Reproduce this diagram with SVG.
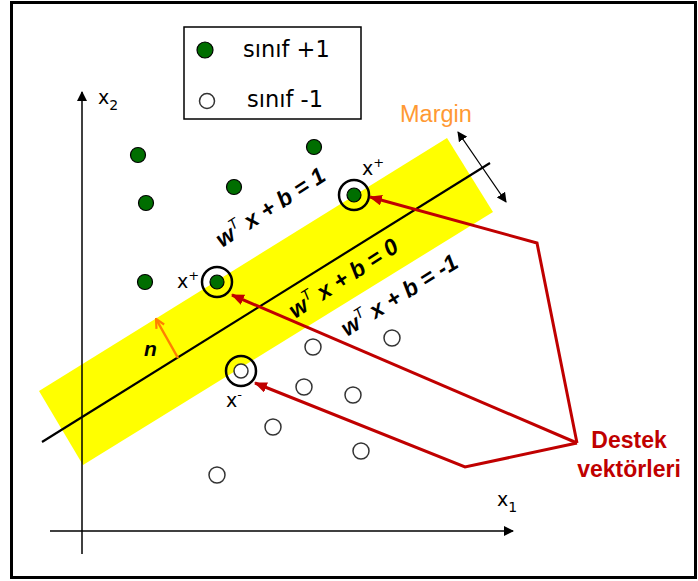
<svg xmlns="http://www.w3.org/2000/svg" width="698" height="581" viewBox="0 0 698 581">
<defs>
<style>
.frame{fill:#fff;stroke:#000;stroke-width:3}
.axis{stroke:#000;stroke-width:1.5;fill:none}
.pos{fill:#006e00;stroke:#000;stroke-width:1.2}
.neg{fill:#fff;stroke:#333;stroke-width:1.5}
.ring{fill:none;stroke:#000;stroke-width:2.5}
.red{fill:none;stroke:#c00000;stroke-width:3;stroke-linejoin:miter}
.lbl{font-family:"DejaVu Sans",Verdana,sans-serif;fill:#000}
.eq{font-family:"Liberation Sans",Arial,sans-serif;font-weight:bold;font-style:italic;font-size:23px;fill:#000}
.sup{font-size:15px;font-weight:normal}
</style>
<marker id="ah" viewBox="0 0 10 10" refX="9" refY="5" markerWidth="10" markerHeight="10" markerUnits="userSpaceOnUse" orient="auto-start-reverse"><path d="M0,0 L10,5 L0,10 z" fill="#000"/></marker>
<marker id="ahr" viewBox="0 0 12 10" refX="11" refY="5" markerWidth="13" markerHeight="11" markerUnits="userSpaceOnUse" orient="auto"><path d="M0,0 L12,5 L0,10 z" fill="#c00000"/></marker>
<marker id="aho" viewBox="0 0 10 10" refX="9" refY="5" markerWidth="11" markerHeight="11" markerUnits="userSpaceOnUse" orient="auto"><path d="M1,1 L9,5 L1,9" fill="none" stroke="#ff8000" stroke-width="2"/></marker>
</defs>
<rect class="frame" x="11.5" y="2.5" width="684" height="575"/>
<g id="legend">
<rect x="184" y="27" width="177" height="92" fill="#fff" stroke="#000" stroke-width="1.5"/>
<circle class="pos" cx="205" cy="50" r="8"/>
<text class="lbl" x="243" y="57" font-size="22.5">sınıf +1</text>
<circle class="neg" cx="207" cy="101" r="7.5"/>
<text class="lbl" x="247" y="107" font-size="22.5">sınıf -1</text>
</g>
<g id="band">
<polygon points="39,391 447,138 493,212 83,465" fill="#ffff00"/>
</g>
<g id="axes">
<line class="axis" x1="82" y1="554" x2="82" y2="92" marker-end="url(#ah)"/>
<line class="axis" x1="50" y1="531" x2="513" y2="531" marker-end="url(#ah)"/>
<text class="lbl" x="98" y="104" font-size="19">x<tspan font-size="14" dy="6">2</tspan></text>
<text class="lbl" x="497" y="506" font-size="19">x<tspan font-size="14" dy="6">1</tspan></text>
</g>
<g id="hyperplane">
<line x1="42" y1="442" x2="490" y2="163" stroke="#000" stroke-width="2.2"/>
</g>
<g id="margin">
<line x1="458" y1="132" x2="506" y2="202" stroke="#000" stroke-width="1.3" marker-start="url(#ah)" marker-end="url(#ah)"/>
<text x="400" y="122" font-family="Liberation Sans,Arial,sans-serif" font-size="23.5" fill="#ff9933">Margin</text>
</g>
<g id="points-pos">
<circle class="pos" cx="138" cy="155" r="7.5"/>
<circle class="pos" cx="146" cy="203" r="7.5"/>
<circle class="pos" cx="234" cy="187" r="7.5"/>
<circle class="pos" cx="314" cy="147" r="7.5"/>
<circle class="pos" cx="145" cy="282" r="7.5"/>
</g>
<g id="points-neg">
<circle class="neg" cx="313" cy="347" r="8"/>
<circle class="neg" cx="392" cy="338" r="8"/>
<circle class="neg" cx="304" cy="387" r="8"/>
<circle class="neg" cx="353" cy="395" r="8"/>
<circle class="neg" cx="273" cy="427" r="8"/>
<circle class="neg" cx="361" cy="451" r="8"/>
<circle class="neg" cx="217" cy="475" r="8"/>
</g>
<g id="sv-pos-1">
<circle class="ring" cx="217" cy="282" r="15"/>
<circle class="pos" cx="217" cy="282" r="7"/>
<text class="lbl" x="177" y="288" font-size="19">x<tspan font-size="13" dy="-8">+</tspan></text>
</g>
<g id="sv-pos-2">
<circle class="ring" cx="354" cy="195" r="15"/>
<circle class="pos" cx="354" cy="195" r="7"/>
<text class="lbl" x="362" y="175" font-size="19">x<tspan font-size="13" dy="-8">+</tspan></text>
</g>
<g id="sv-neg">
<circle class="ring" cx="241" cy="371" r="15"/>
<circle class="neg" cx="241" cy="371" r="7"/>
<text class="lbl" x="226" y="407" font-size="19">x<tspan font-size="13" dy="-8">-</tspan></text>
</g>
<g id="normal">
<line x1="178" y1="358" x2="156" y2="319" stroke="#ff8000" stroke-width="2.5" marker-end="url(#aho)"/>
<text x="144" y="356" font-family="Liberation Sans,Arial,sans-serif" font-weight="bold" font-style="italic" font-size="21" fill="#000">n</text>
</g>
<g id="equations">
<text class="eq" transform="translate(222,248) rotate(-33)">w<tspan class="sup" dy="-9">T</tspan><tspan dy="9"> x + b = 1</tspan></text>
<text class="eq" transform="translate(295,319) rotate(-33)">w<tspan class="sup" dy="-9">T</tspan><tspan dy="9"> x + b = 0</tspan></text>
<text class="eq" transform="translate(347,337) rotate(-32)">w<tspan class="sup" dy="-9">T</tspan><tspan dy="9"> x + b = -1</tspan></text>
</g>
<g id="connectors">
<polyline class="red" points="577,443 537,243 370,197" marker-end="url(#ahr)"/>
<polyline class="red" points="577,443 232,295" marker-end="url(#ahr)"/>
<polyline class="red" points="577,443 465,467 255,383" marker-end="url(#ahr)"/>
</g>
<g id="destek-label">
<text x="629" y="448" text-anchor="middle" font-family="Liberation Sans,Arial,sans-serif" font-weight="bold" font-size="23" fill="#c00000">Destek</text>
<text x="629" y="477" text-anchor="middle" font-family="Liberation Sans,Arial,sans-serif" font-weight="bold" font-size="23" fill="#c00000">vektörleri</text>
</g>
</svg>
